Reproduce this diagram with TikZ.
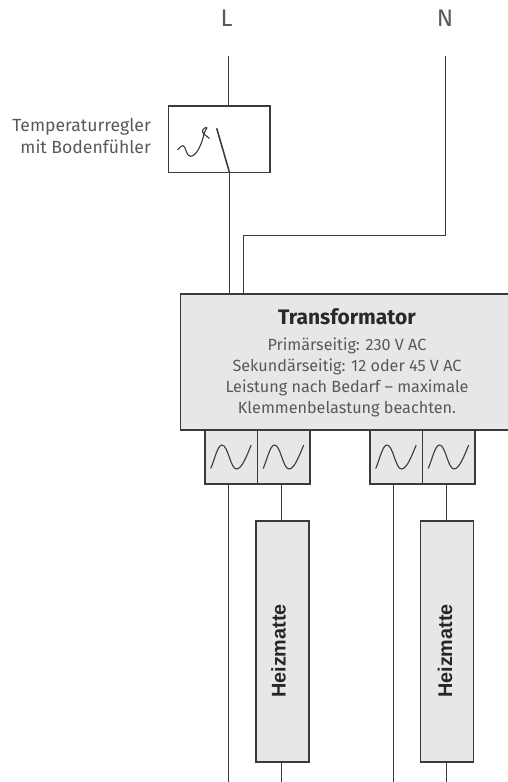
\documentclass[tikz,border=0pt]{standalone}
\usepackage{fontspec}
\setmainfont{Fira Sans}
\newfontfamily\matfont{Liberation Sans}
\definecolor{ink}{HTML}{3A3A3C}
\definecolor{txt}{HTML}{58595B}
\definecolor{panel}{HTML}{E6E7E8}
\usetikzlibrary{calc}
\tikzset{
  wire/.style={draw=ink,line width=1.55pt},
  thin wire/.style={draw=ink,line width=1.1pt},
  box/.style={draw=ink,line width=1.5pt,inner sep=0pt,outer sep=0pt,anchor=north west},
  greybox/.style={box,fill=panel},
  lab/.style={text=txt,inner sep=0pt},
  mat/.style={text=black!85,font=\matfont\fontsize{19.8}{20}\selectfont\bfseries,rotate=90,inner sep=0pt},
}
\newcommand{\sinewave}[1]{\begin{scope}[shift={(#1.north west)}]
\draw[thin wire] (5.7,38.5) .. controls (9.5,30) and (12.5,15) .. (17,15) .. controls (23,15) and (25.5,39) .. (31.5,39) .. controls (37,39) and (42,25) .. (46.2,15);
\end{scope}}
\begin{document}
\begin{tikzpicture}[x=1pt,y=-1pt]
\useasboundingbox (0,0) rectangle (507,782);
\node[lab,font=\fontsize{24}{24}\selectfont] (L) at (226.5,18.5) {L};
\node[lab,font=\fontsize{24}{24}\selectfont] (N) at (445,18.5) {N};
\coordinate (Ltop) at (228.5,56);
\coordinate (Ntop) at (445.5,56);
\node[box,minimum width=101.5pt,minimum height=66.5pt] (regler) at (168.5,106) {};
\node[lab,align=right,anchor=east,font=\fontsize{17.6}{22.5}\selectfont] (reglerlab) at (151,136) {Temperaturregler\\mit Bodenfühler};
\node[greybox,minimum width=340pt,minimum height=136pt] (trafo) at (180.5,294) {};
\node[lab,align=center,font=\fontsize{16.2}{21}\selectfont] (trafotext) at (347,363) {{\fontsize{21}{21}\selectfont\bfseries\color{ink!70!black}Transformator}\\[5pt]Primärseitig: 230 V AC\\Sekundärseitig: 12 oder 45 V AC\\Leistung nach Bedarf – maximale\\Klemmenbelastung beachten.};
\node[greybox,minimum width=52.5pt,minimum height=54pt] (s1) at (205,430) {};
\node[greybox,minimum width=52.5pt,minimum height=54pt] (s2) at (257.5,430) {};
\node[greybox,minimum width=52.5pt,minimum height=54pt] (s3) at (370,430) {};
\node[greybox,minimum width=52.5pt,minimum height=54pt] (s4) at (422.5,430) {};
\node[greybox,minimum width=53pt,minimum height=241pt] (m1) at (256,521) {};
\node[greybox,minimum width=53pt,minimum height=241pt] (m2) at (420.5,521) {};
\node[mat] (m1t) at (278.5,651) {Heizmatte};
\node[mat] (m2t) at (445,651) {Heizmatte};
\coordinate (sw) at (216.7,128.3);
\coordinate (swb) at (229.5,172.5);
\draw[wire] (Ltop) -- (Ltop |- regler.north);
\draw[wire] (sw) -- (swb);
\draw[wire] (swb) -- (swb |- trafo.north);
\coordinate (bend) at (243.5,235.5);
\draw[wire] (Ntop) -- (Ntop |- bend) -- (bend) -- (bend |- trafo.north);
\draw[thin wire] (177.7,150) .. controls (180,147) and (181.5,145.5) .. (183,145.7) .. controls (186,146) and (186,156.5) .. (190.5,156.3) .. controls (197,156) and (202,143) .. (204,134) .. controls (205,130) and (208,127.5) .. (206.5,127.5) .. controls (203,127.5) and (201,132) .. (204,134) -- (209.5,138.5);
\sinewave{s1}\sinewave{s2}\sinewave{s3}\sinewave{s4}
\coordinate (b1) at (228.5,782);
\coordinate (b2) at (281.5,782);
\coordinate (b3) at (393.5,782);
\coordinate (b4) at (446.5,782);
\draw[wire] (b1) -- (b1 |- s1.south);
\draw[wire] (m1.north -| b2) -- (b2 |- s2.south);
\draw[wire] (b2) -- (b2 |- m1.south);
\draw[wire] (b3) -- (b3 |- s3.south);
\draw[wire] (m2.north -| b4) -- (b4 |- s4.south);
\draw[wire] (b4) -- (b4 |- m2.south);
\end{tikzpicture}
\end{document}
